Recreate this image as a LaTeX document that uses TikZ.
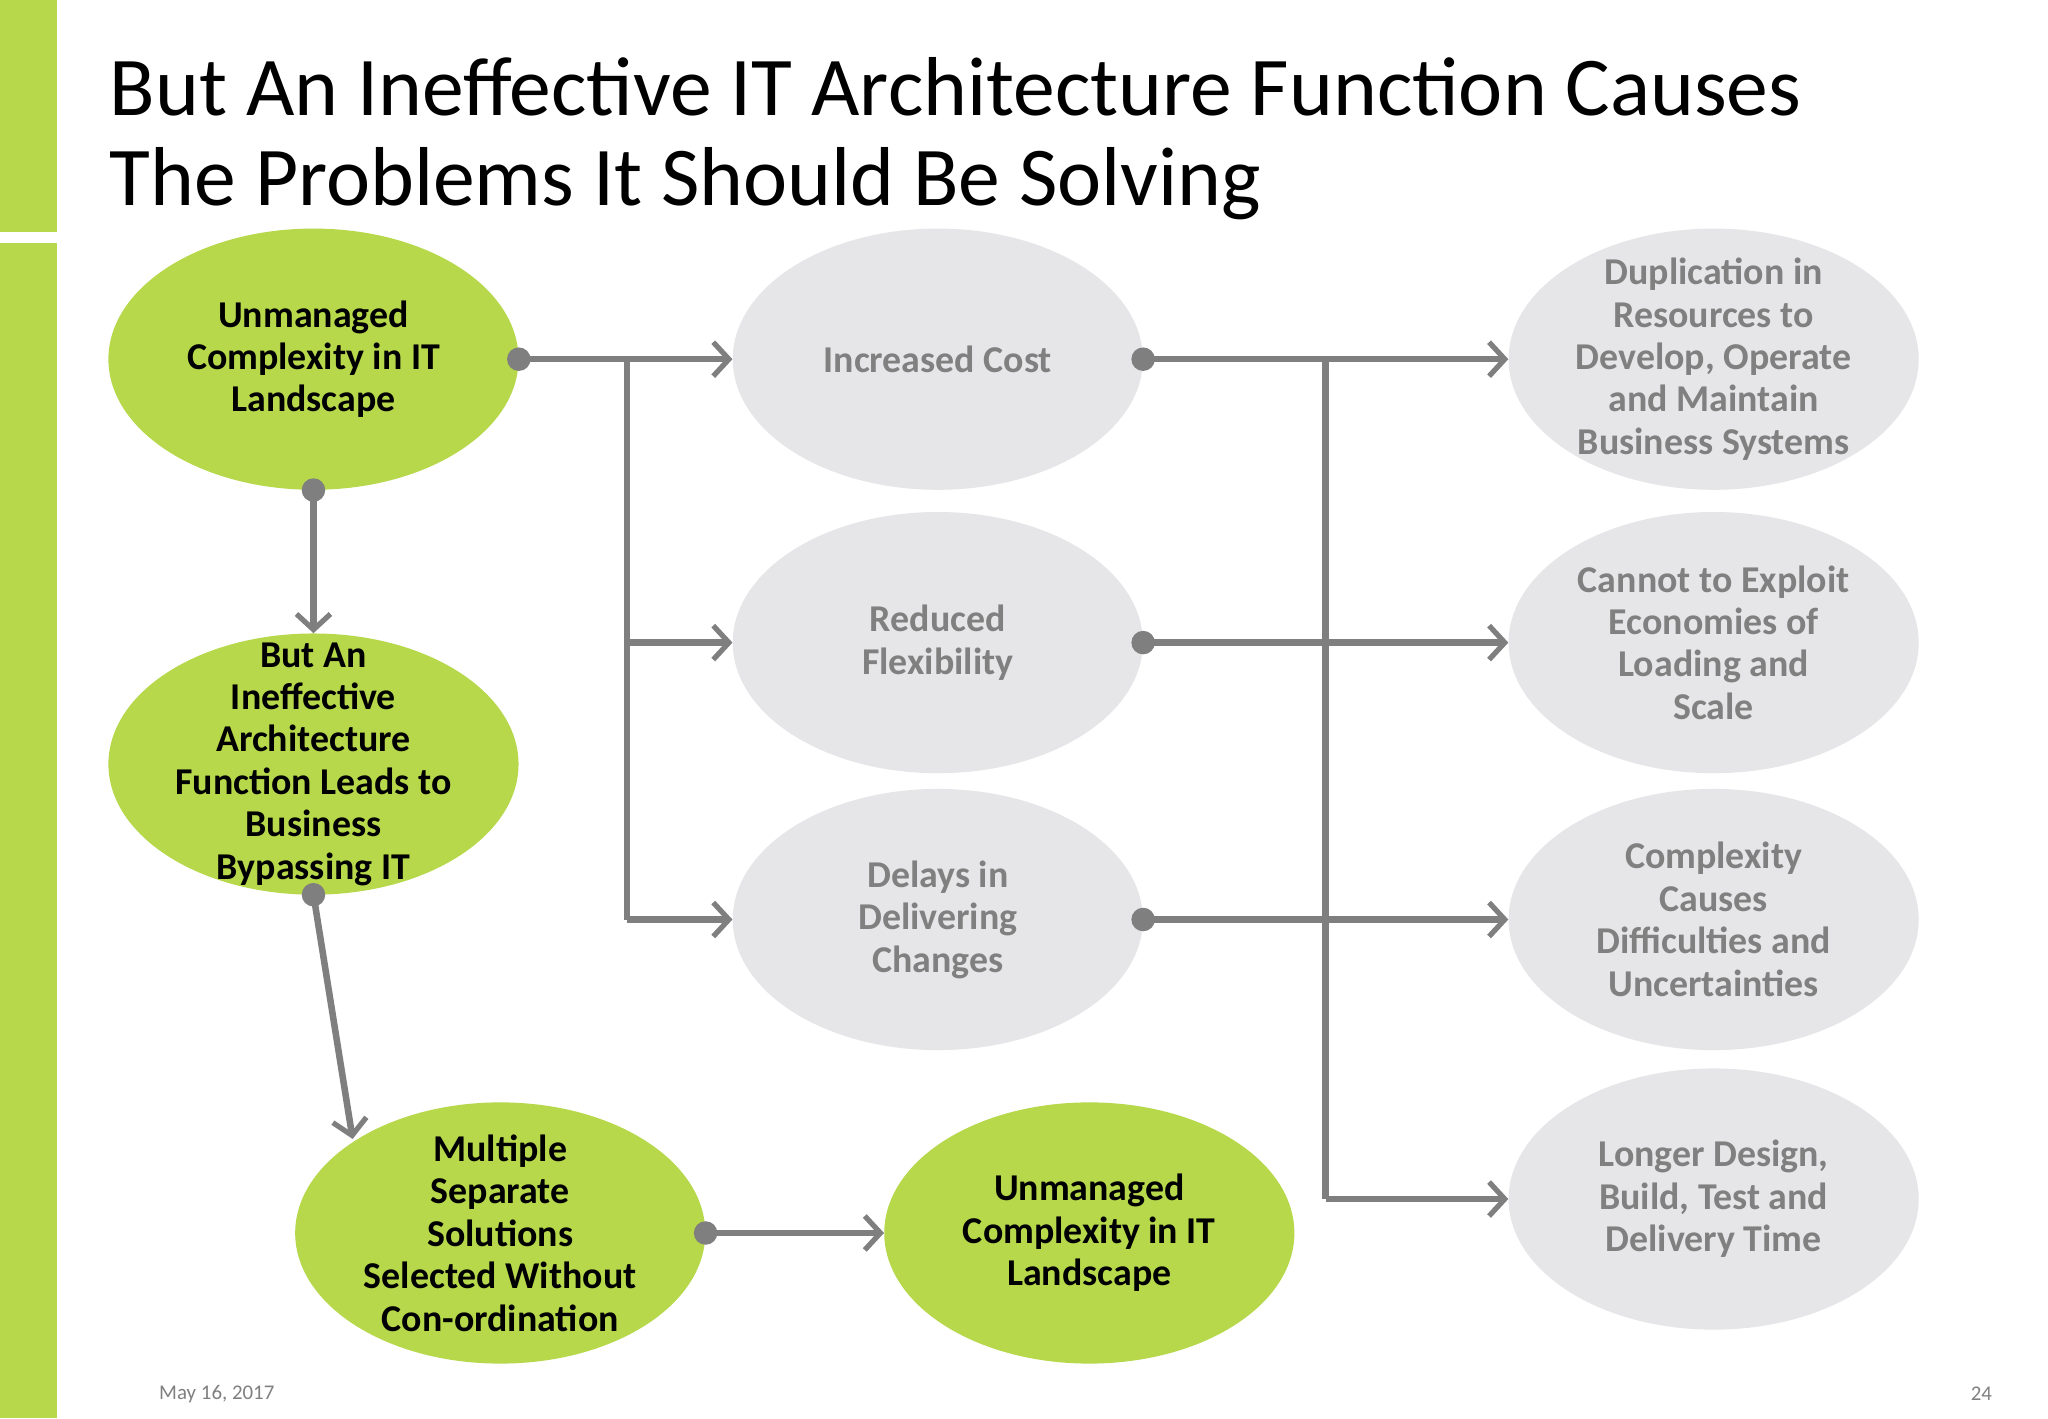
\documentclass[tikz,border=0pt]{standalone}
\usepackage{fontspec}
\setmainfont{Carlito}
\usetikzlibrary{shapes.geometric,arrows.meta}
\definecolor{lg}{HTML}{B6D84A}
\definecolor{gr}{HTML}{E6E6E8}
\definecolor{tg}{HTML}{808080}
\definecolor{ln}{HTML}{7F7F7F}
\begin{document}
\begin{tikzpicture}[x=1pt,y=-1pt,
  el/.style={ellipse,minimum width=314pt,minimum height=200pt,inner sep=0pt},
  g/.style={el,fill=lg},
  q/.style={el,fill=gr},
  tx/.style={align=center,font=\fontsize{29}{32.5}\selectfont\bfseries,inner sep=0pt},
  con/.style={draw=ln,line width=5pt,-{Straight Barb[length=12pt,width=26pt,line width=4pt]}},
  seg/.style={draw=ln,line width=5pt},
  dot/.style={circle,fill=ln,minimum size=18pt,inner sep=0pt}]
\useasboundingbox (0,0) rectangle (1568,1086);
\fill[white] (0,0) rectangle (1568,1086);
\fill[lg] (0,0) rectangle (44,178);
\fill[lg] (0,186) rectangle (44,1086);
\node[anchor=north west,align=left,font=\fontsize{64}{69}\selectfont,inner sep=0pt] (title) at (84,44) {But An Ineffective IT Architecture Function Causes\\The Problems It Should Be Solving};
\node[g] (a) at (240,275) {};
\node[g] (b) at (240,585) {};
\node[g] (c) at (383,944) {};
\node[g] (d) at (834,944) {};
\node[q] (m1) at (718,275) {};
\node[q] (m2) at (718,492) {};
\node[q] (m3) at (718,704) {};
\node[q] (r1) at (1312,275) {};
\node[q] (r2) at (1312,492) {};
\node[q] (r3) at (1312,704) {};
\node[q] (r4) at (1312,918) {};
\node[tx] (ta) at (a) {Unmanaged\\Complexity in IT\\Landscape};
\node[tx] (tb) at (240,585) {But An\\Ineffective\\Architecture\\Function Leads to\\Business\\Bypassing IT};
\node[tx] (tc) at (383,944) {Multiple\\Separate\\Solutions\\Selected Without\\Con-ordination};
\node[tx] (td) at (d) {Unmanaged\\Complexity in IT\\Landscape};
\node[tx,text=tg] (tm1) at (m1) {Increased Cost};
\node[tx,text=tg] (tm2) at (m2) {Reduced\\Flexibility};
\node[tx,text=tg] (tm3) at (m3) {Delays in\\Delivering\\Changes};
\node[tx,text=tg] (tr1) at (r1) {Duplication in\\Resources to\\Develop, Operate\\and Maintain\\Business Systems};
\node[tx,text=tg] (tr2) at (r2) {Cannot to Exploit\\Economies of\\Loading and\\Scale};
\node[tx,text=tg] (tr3) at (r3) {Complexity\\Causes\\Difficulties and\\Uncertainties};
\node[tx,text=tg] (tr4) at (r4) {Longer Design,\\Build, Test and\\Delivery Time};
\coordinate (j1) at (480,275);
\coordinate (j2) at (480,492);
\coordinate (j3) at (480,704);
\coordinate (k1) at (1015,275);
\coordinate (k4) at (1015,918);
\coordinate (bs) at (240,685);
\coordinate (ce) at (270,872);
\path[seg] (j1) -- (j3);
\path[seg] (k1) -- (k4);
\path[con] (a.east) -- (m1.west);
\path[con] (j2) -- (m2.west);
\path[con] (j3) -- (m3.west);
\path[con] (m1.east) -- (r1.west);
\path[con] (m2.east) -- (r2.west);
\path[con] (m3.east) -- (r3.west);
\path[con] (k4) -- (r4.west);
\path[con] (a.south) -- (b.north);
\path[con] (bs) -- (ce);
\path[con] (c.east) -- (d.west);
\foreach \p in {a.east,m1.east,m2.east,m3.east,a.south,c.east,bs} \node[dot] at (\p) {};
\node[font=\fontsize{16}{18}\selectfont,text=tg] (date) at (166,1067) {May 16, 2017};
\node[font=\fontsize{16}{18}\selectfont,text=tg] (pg) at (1517,1067) {24};
\end{tikzpicture}
\end{document}
